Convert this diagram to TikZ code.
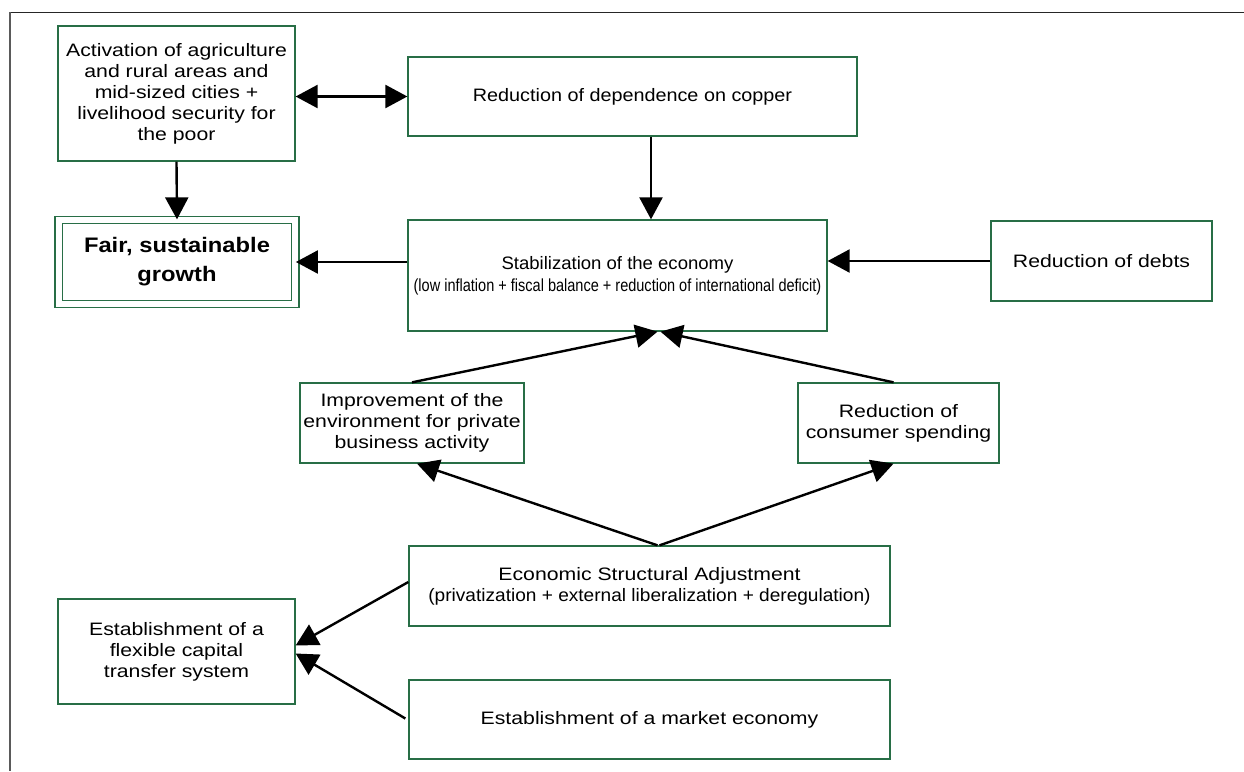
\documentclass[tikz,border=0pt]{standalone}
\usepackage{fontspec}
\setmainfont{Liberation Sans}
\newfontfamily\widefont[FakeStretch=1.18]{Liberation Sans}
\newfontfamily\copfont[FakeStretch=1.10]{Liberation Sans}
\newfontfamily\stabfont[FakeStretch=1.03]{Liberation Sans}
\newfontfamily\esafont[FakeStretch=1.06]{Liberation Sans}
\newfontfamily\narrowfont[FakeStretch=0.83]{Liberation Sans}
\newfontfamily\fairfont[FakeStretch=1.13]{Liberation Sans}
\usetikzlibrary{arrows.meta}
\definecolor{boxgreen}{RGB}{40,110,70}
\definecolor{framegray}{RGB}{90,90,90}
\tikzset{
  box/.style={draw=boxgreen, line width=1.3pt, fill=white, align=center, inner sep=2pt,
    font=\widefont\fontsize{18}{21}\selectfont},
  conn/.style={line width=2.4pt, -{Triangle[length=22pt,width=23pt]}},
  biconn/.style={line width=2.4pt, {Triangle[length=22pt,width=23pt]}-{Triangle[length=22pt,width=23pt]}},
}
\begin{document}
\begin{tikzpicture}[x=1pt,y=-1pt]
\useasboundingbox (0,0) rectangle (1244,771);
% frame
\draw[line width=1pt, black!85] (10,12) -- (1244,12);
\draw[line width=1.5pt, framegray] (10,12) -- (10,771);

\node[box, minimum width=237pt, minimum height=135pt] (act) at (176.5,93.5)
  {Activation of agriculture\\and rural areas and\\mid-sized cities +\\livelihood security for\\the poor};
\node[box, minimum width=449pt, minimum height=79pt, font=\copfont\fontsize{18}{21}\selectfont] (cop) at (632.5,96.5)
  {Reduction of dependence on copper};
\node[box, double=white, double distance=6.2pt, minimum width=236.5pt, minimum height=84pt,
  font=\fairfont\fontsize{21}{29}\selectfont\bfseries] (fair) at (177,262)
  {Fair, sustainable\\growth};
\node[box, minimum width=419pt, minimum height=111pt, font=\stabfont\fontsize{18}{21}\selectfont] (stab) at (617.5,275.5)
  {Stabilization of the economy\\[1pt]{\narrowfont\fontsize{17.5}{21}\selectfont (low inflation + fiscal balance + reduction of international deficit)}};
\node[box, minimum width=221pt, minimum height=80pt] (debt) at (1101.5,261)
  {Reduction of debts};
\node[box, minimum width=224pt, minimum height=80pt] (imp) at (412,423)
  {Improvement of the\\environment for private\\business activity};
\node[box, minimum width=201pt, minimum height=80pt] (cons) at (898.5,423)
  {Reduction of\\consumer spending};
\node[box, minimum width=481pt, minimum height=80pt] (esa) at (649.5,586)
  {Economic Structural Adjustment\\{\esafont (privatization + external liberalization + deregulation)}};
\node[box, minimum width=481pt, minimum height=79pt] (mkt) at (649.5,719.5)
  {Establishment of a market economy};
\node[box, minimum width=237pt, minimum height=105pt] (cap) at (176.5,651.5)
  {Establishment of a\\flexible capital\\transfer system};

% connectors
\draw[biconn] (act.east |- cop.west) -- (cop.west);
\draw[conn] (act.south) -- (fair.north);
\draw[conn] ([xshift=18.5pt]cop.south) -- ([xshift=33.5pt]stab.north);
\draw[conn] (stab.west |- fair.east) -- (fair.east);
\draw[conn] (debt.west) -- (stab.east |- debt.west);
\draw[conn] (imp.north) -- ([xshift=40pt]stab.south);
\draw[conn] ([xshift=-5pt]cons.north) -- ([xshift=43pt]stab.south);
\draw[conn] ([xshift=8pt]esa.north) -- ([xshift=5pt]imp.south);
\draw[conn] ([xshift=10pt]esa.north) -- ([xshift=-5pt]cons.south);
\draw[conn] ([yshift=4pt]esa.west) -- ([yshift=6pt]cap.east);
\draw[conn] ([xshift=-3pt,yshift=1pt]mkt.west) -- ([yshift=-2pt]cap.east);
\end{tikzpicture}
\end{document}
